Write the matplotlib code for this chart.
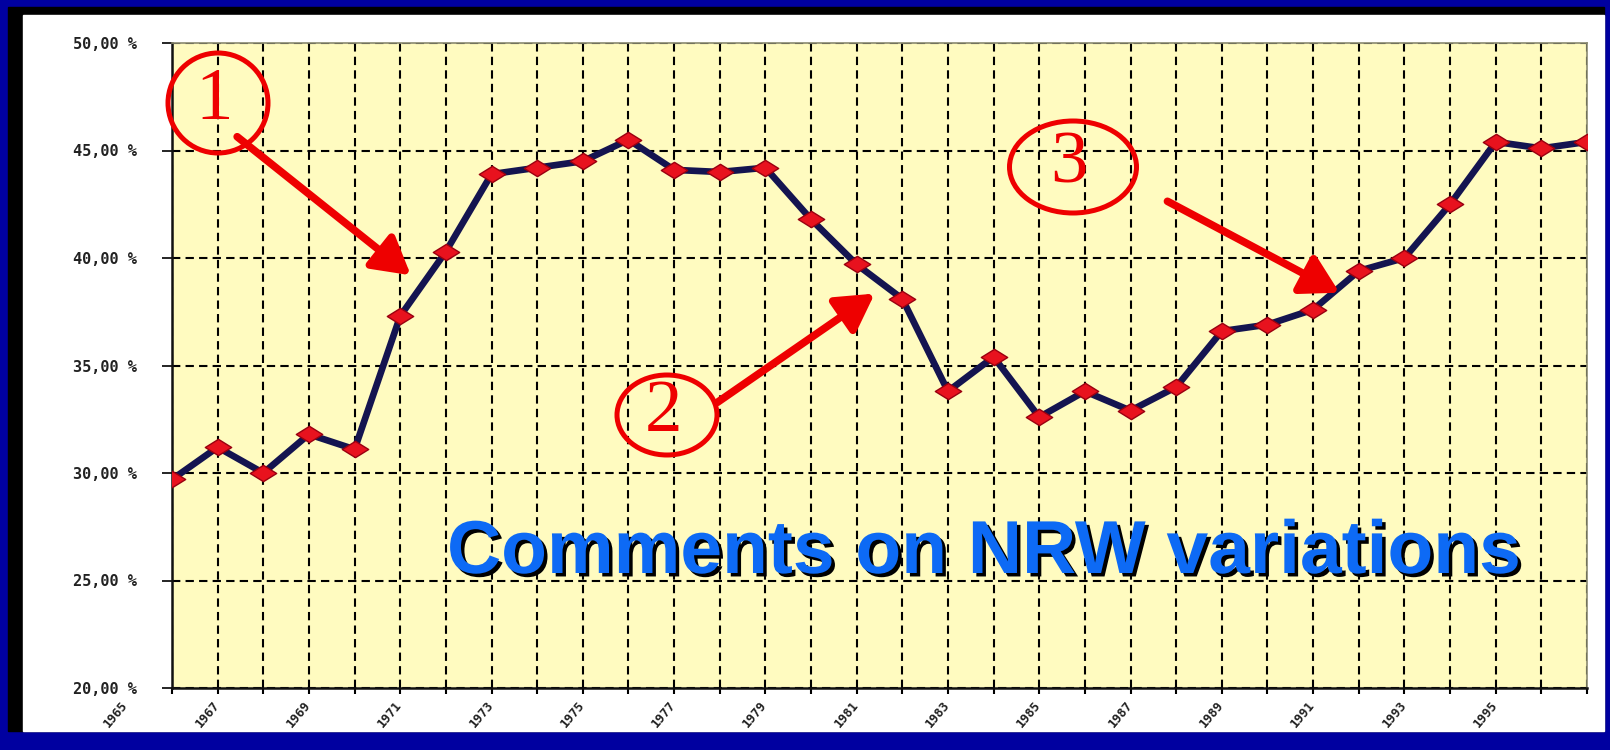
import numpy as np
import matplotlib.pyplot as plt
import matplotlib.patheffects as pe
from matplotlib.patches import Rectangle, Ellipse, FancyArrowPatch
from matplotlib.path import Path
import matplotlib.transforms as mtransforms

# NRW share per year
years = np.arange(1966, 1998)
nrw = [29.7, 31.2, 30.0, 31.8, 31.1, 37.3, 40.3, 43.9, 44.2, 44.5, 45.5,
       44.1, 44.0, 44.2, 41.8, 39.7, 38.1, 33.8, 35.4, 32.6, 33.8, 32.9,
       34.0, 36.6, 36.9, 37.6, 39.4, 40.0, 42.5, 45.4, 45.1, 45.4]
label_years = list(range(1965, 1997, 2))
y_ticks = [20, 25, 30, 35, 40, 45, 50]
y_labels = ["20,00 %", "25,00 %", "30,00 %", "35,00 %", "40,00 %", "45,00 %", "50,00 %"]

W, H = 1610, 750

def fx(px):
    return px / W

def fy(py):
    return 1 - py / H

fig = plt.figure(figsize=(16.1, 7.5), dpi=100)
fig.patch.set_facecolor('#0000a0')

# black shadow strip + white slide panel
fig.patches.append(Rectangle((fx(8), fy(731)), fx(1604 - 8), (731 - 7) / H,
                             transform=fig.transFigure, color='black', zorder=-3))
fig.patches.append(Rectangle((fx(23), fy(731)), fx(1604 - 23), (731 - 15) / H,
                             transform=fig.transFigure, color='white', zorder=-2))

ax = fig.add_axes([fx(172), fy(688), fx(1587 - 172), (688 - 43) / H])
ax.set_facecolor('#fffbc0')

diamond = Path([(-1, 0), (0, 0.62), (1, 0), (0, -0.62), (-1, 0)],
               [Path.MOVETO, Path.LINETO, Path.LINETO, Path.LINETO, Path.CLOSEPOLY])
ax.plot(years, nrw, color='#141450', lw=4.8, zorder=3, solid_joinstyle='round')
ax.plot(years, nrw, ls='none', marker=diamond, markersize=19,
        markerfacecolor='#e8121e', markeredgecolor='#9a0010', markeredgewidth=1,
        zorder=4)

ax.set_xlim(years[0], years[-1])
ax.set_ylim(20, 50)
ax.set_xticks(years)
ax.set_xticklabels([])
ax.set_yticks(y_ticks)
ax.set_yticklabels(y_labels, fontfamily='DejaVu Sans Mono', fontweight='bold',
                   fontsize=11, color='#222222')
ax.tick_params(axis='x', direction='out', length=4, width=1.5, color='black')
ax.tick_params(axis='y', direction='out', length=7, width=1.2, color='black', pad=18)

ax.grid(True, color='black', lw=1.5, ls=(0, (4, 2.5)))
ax.set_axisbelow(True)
for s in ['left', 'bottom']:
    ax.spines[s].set_linewidth(1.8)
    ax.spines[s].set_color('#111111')
for s in ['top', 'right']:
    ax.spines[s].set_linewidth(1.2)
    ax.spines[s].set_color('#8a8a70')

# rotated year labels, every other year (first one sits before the axis)
trans = mtransforms.blended_transform_factory(ax.transData, ax.transAxes)
for yr in label_years:
    ax.text(yr + 0.1, -0.016, str(yr), transform=trans, rotation=50,
            ha='right', va='top', fontsize=9, fontweight='bold',
            fontfamily='DejaVu Sans Mono', color='#222222', clip_on=False)

# title with drop shadow
fig.text(fx(447), fy(573), "Comments on NRW variations", fontsize=54,
         fontweight='bold', family='Liberation Sans', color='#0d6af5',
         ha='left', va='baseline', zorder=10,
         path_effects=[pe.SimplePatchShadow(offset=(2.5, -2.5), shadow_rgbFace='black',
                                            alpha=1), pe.Normal()])

# numbered circles and arrows
circles = [(218, 103, 100, 100, '1'), (667, 415, 100, 80, '2'), (1073, 167, 127, 92, '3')]
for cx, cy, w, h, num in circles:
    fig.patches.append(Ellipse((fx(cx), fy(cy)), fx(w), h / H, transform=fig.transFigure,
                               fill=False, edgecolor='#ee0000', lw=3.6, zorder=6))
    fig.text(fx(cx - 4), fy(cy - 2), num, fontsize=54, family='Liberation Serif',
             color='#ee0000', ha='center', va='center', zorder=7)

arrows = [((235, 135), (413, 277)), ((715, 404), (877, 292)), ((1165, 200), (1342, 294))]
for (x0, y0), (x1, y1) in arrows:
    fig.add_artist(FancyArrowPatch(
        (fx(x0), fy(y0)), (fx(x1), fy(y1)), transform=fig.transFigure,
        arrowstyle='-|>,head_length=14,head_width=8', mutation_scale=1.6,
        color='#ee0000', lw=5.5, zorder=8))

fig.savefig('out.png', dpi=100, facecolor=fig.get_facecolor())
